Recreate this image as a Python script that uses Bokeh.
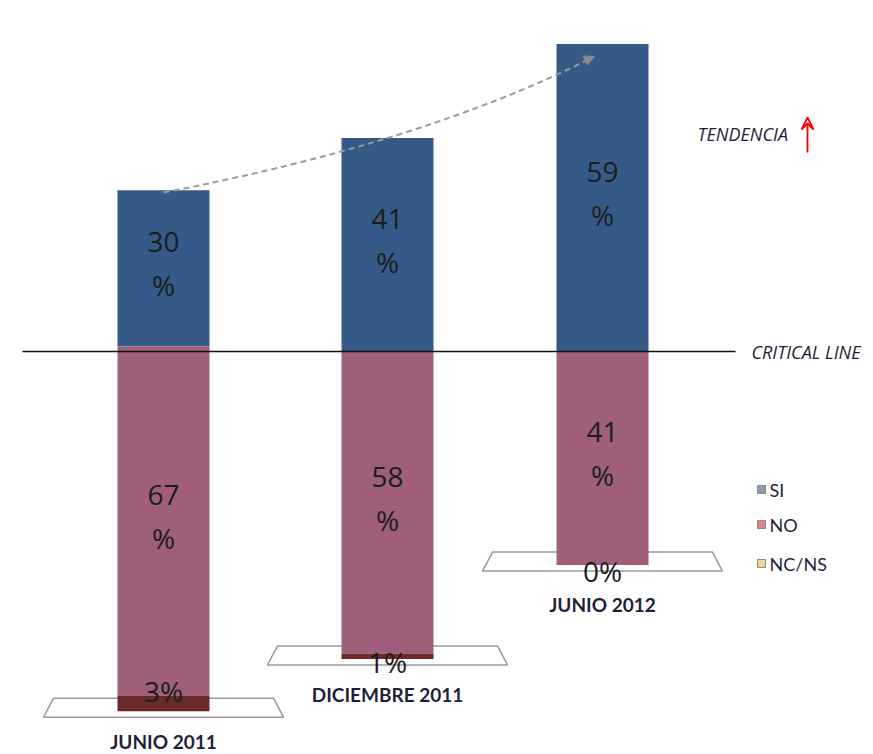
from bokeh.plotting import figure
from bokeh.models import Range1d, Arrow, VeeHead, NormalHead, ColumnDataSource
from bokeh.core.properties import value
from bokeh.embed import file_html
from bokeh.resources import INLINE

# ---- data ----
periods = ["JUNIO 2011", "DICIEMBRE 2011", "JUNIO 2012"]
si = [30, 41, 59]
no = [67, 58, 41]
ncns = [3, 1, 0]
series_names = ["SI", "NO", "NC/NS"]

# ---- layout (screen-pixel helpers) ----
W, H = 865, 752
PX_PER_PCT = 5.21
ZERO_Y = 351          # screen y of the critical line
centers = [163, 387, 602]
bar_w = 92
bar_shift_px = [5, 0, 0]
nc_label_dy = [-20, 3, 6]
cat_label_dy = [30, 36, 39]

def ys(screen_y):
    return (ZERO_Y - screen_y) / PX_PER_PCT

def px(n):
    return n / PX_PER_PCT

y_top = ys(0)
y_bot = ys(H)

p = figure(width=W, height=H, output_backend="svg", toolbar_location=None,
           x_range=Range1d(0, W), y_range=Range1d(y_bot, y_top),
           min_border=0, outline_line_color=None)
p.axis.visible = False
p.grid.visible = False
p.background_fill_color = "white"
p.border_fill_color = "white"

C_SI = "#365a87"
C_NO = "#9f5f7b"
C_NC = "#6b2a2a"
TXT = "#1c1c1c"

shift = [px(s) for s in bar_shift_px]
si_top = [s + v for s, v in zip(shift, si)]
no_bot = [s - v for s, v in zip(shift, no)]
nc_bot = [b - v for b, v in zip(no_bot, ncns)]

# base plates (trapezoids)
for i, c in enumerate(centers):
    b = nc_bot[i]
    yt = b + px(13)
    yb = b - px(6)
    p.patch([c - 110, c + 110, c + 120, c - 120], [yt, yt, yb, yb],
            fill_color="white", line_color="#9a9a9a", line_width=1.5)

src = ColumnDataSource(dict(x=centers, shift=shift, si_top=si_top,
                            no_bot=no_bot, nc_bot=nc_bot))
p.vbar(x="x", width=bar_w, bottom="shift", top="si_top", source=src,
       fill_color=C_SI, line_color=None)
p.vbar(x="x", width=bar_w, bottom="no_bot", top="shift", source=src,
       fill_color=C_NO, line_color=None)
p.vbar(x="x", width=bar_w, bottom="nc_bot", top="no_bot", source=src,
       fill_color=C_NC, line_color=None)

# critical line
p.line([22, 735], [0, 0], line_color="#111111", line_width=1.6)
p.text([751], [0], text=["CRITICAL LINE"], text_font=value("Open Sans"),
       text_font_style="italic", text_font_size="18px", text_color="#1f1f3a",
       text_baseline="middle", text_align="left")

# value labels
FONT = value("Open Sans")
si_mid = [s + v / 2 for s, v in zip(shift, si)]
no_mid = [s - v / 2 for s, v in zip(shift, no)]
for mids, vals in ((si_mid, si), (no_mid, no)):
    p.text(centers, mids, text=[str(v) for v in vals], text_font=FONT,
           text_font_size="28px", text_color=TXT, text_align="center",
           text_baseline="middle", y_offset=-26)
    p.text(centers, mids, text=["%"] * 3, text_font=FONT,
           text_font_size="28px", text_color=TXT, text_align="center",
           text_baseline="middle", y_offset=17)
nc_lab_y = [b - px(d) for b, d in zip(nc_bot, nc_label_dy)]
p.text(centers, nc_lab_y, text=[f"{v}%" for v in ncns], text_font=FONT,
       text_font_size="28px", text_color=TXT, text_align="center",
       text_baseline="middle")

# category labels
cat_y = [b - px(d) for b, d in zip(nc_bot, cat_label_dy)]
p.text(centers, cat_y, text=periods, text_font=value("Lato"),
       text_font_style="bold", text_font_size="19px", text_color="#1f1f3a",
       text_align="center", text_baseline="middle")

# trend curve
p.quadratic(x0=[163], y0=[ys(192)], x1=[586], y1=[ys(60)],
            cx=[419], cy=[ys(143)], line_color="#9a9a9a", line_width=2,
            line_dash="6 4")
p.add_layout(Arrow(x_start=578, y_start=ys(63), x_end=594, y_end=ys(56),
                   line_color="#8a8a8a", line_width=1, line_alpha=0,
                   end=NormalHead(size=10, fill_color="#8a8a8a",
                                  line_color="#8a8a8a")))

# tendencia
p.text([697], [ys(133)], text=["TENDENCIA"], text_font=FONT,
       text_font_style="italic", text_font_size="18px", text_color="#1f1f3a",
       text_baseline="middle", text_align="left")
p.add_layout(Arrow(x_start=807, y_start=ys(152), x_end=807, y_end=ys(117),
                   line_color="red", line_width=1.8,
                   end=VeeHead(size=12, line_color="red", line_width=1.8,
                               fill_color=None)))

# legend
leg_y = [489, 524, 563]
leg_fill = ["#8d9ab0", "#e0868d", "#ecd99a"]
p.rect([761] * 3, [ys(v) for v in leg_y], width=8, height=px(8),
       fill_color=leg_fill, line_color="#8a8a8a", line_width=1)
p.text([769] * 3, [ys(v) for v in leg_y], text=series_names,
       text_font=value("Lato"), text_font_size="18px", text_color="#1f1f3a",
       text_baseline="middle", text_align="left")

open("out.html", "w").write(file_html(p, INLINE))
